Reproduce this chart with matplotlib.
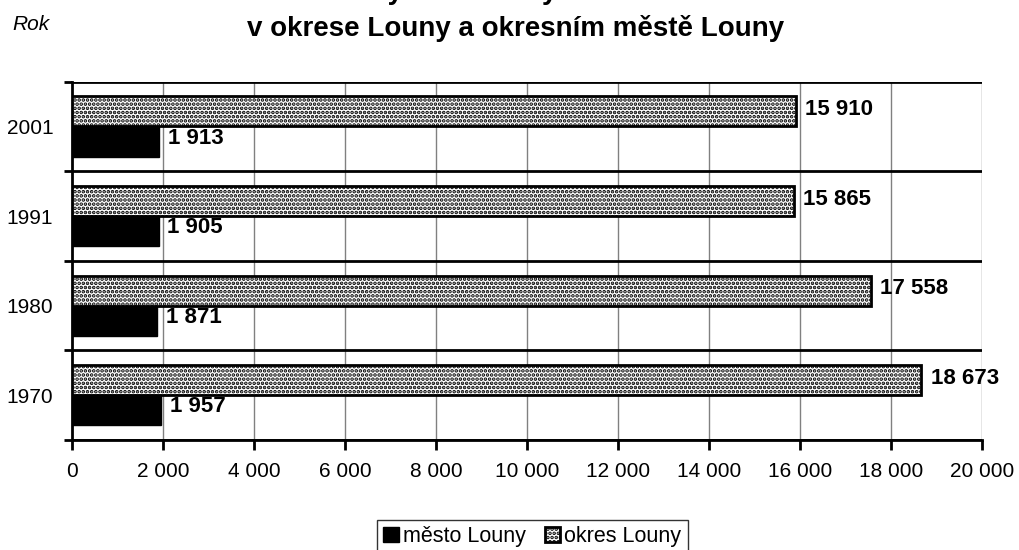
import numpy as np
import matplotlib.pyplot as plt
import matplotlib as mpl

plt.rcParams['font.family'] = ['Liberation Sans', 'DejaVu Sans']
mpl.rcParams['hatch.linewidth'] = 1.8

# data
roky = ['1970', '1980', '1991', '2001']
okres = [18673, 17558, 15865, 15910]
mesto = [1957, 1871, 1905, 1913]
x_ticks = [0, 2000, 4000, 6000, 8000, 10000, 12000, 14000, 16000, 18000, 20000]


def fmt(v):
    return f'{v:,}'.replace(',', ' ')


fig = plt.figure(figsize=(10.2, 5.5), dpi=100)
ax = fig.add_axes([0.0706, 0.2, 0.892, 0.651])

y = np.arange(len(roky))
h = 0.335
off = 0.17

ax.barh(y + off, okres, height=h, color='white', edgecolor='black',
        hatch='....', linewidth=2, label='okres Louny', zorder=3)
ax.barh(y - off, mesto, height=h, color='black', edgecolor='black',
        linewidth=1, label='město Louny', zorder=3)

for yi, v in zip(y, okres):
    ax.text(v + 200, yi + off + 0.02, fmt(v), ha='left', va='center',
            fontsize=16, fontweight='bold', zorder=4)
for yi, v in zip(y, mesto):
    ax.text(v + 190, yi - off + 0.04, fmt(v), ha='left', va='center',
            fontsize=16, fontweight='bold', zorder=4)

ax.set_xlim(0, 20000)
ax.set_ylim(-0.5, len(roky) - 0.5)
ax.set_xticks(x_ticks)
ax.set_xticklabels([fmt(t) for t in x_ticks], fontsize=15)
ax.set_yticks(y)
ax.set_yticklabels(roky, fontsize=15)
ax.tick_params(axis='y', length=0, pad=13.5)
ax.tick_params(axis='x', length=7, width=2, pad=9)

# category separators
bounds = np.arange(len(roky) + 1) - 0.5
ax.set_yticks(bounds, minor=True)
ax.tick_params(axis='y', which='minor', length=6, width=2)
for b in bounds:
    ax.axhline(b, color='black', linewidth=2, zorder=2)
for t in x_ticks[1:]:
    ax.axvline(t, color='#808080', linewidth=1, zorder=1)

for s in ['top', 'right']:
    ax.spines[s].set_visible(False)
ax.spines['left'].set_linewidth(2)
ax.spines['bottom'].set_linewidth(2)

fig.text(0.505, 1.001, 'Trvale obydlené domy v letech sčítání', ha='center',
         va='baseline', fontsize=20, fontweight='bold')
fig.text(0.505, 0.934, 'v okrese Louny a okresním městě Louny', ha='center',
         va='baseline', fontsize=20, fontweight='bold')
fig.text(0.012, 0.955, 'Rok', ha='left', va='center', fontsize=15, style='italic')

handles, labels = ax.get_legend_handles_labels()
leg = fig.legend(handles[::-1], labels[::-1], loc='center', bbox_to_anchor=(0.522, 0.024),
                 ncol=2, fontsize=15.5, frameon=True, fancybox=False, edgecolor='black',
                 handlelength=0.7, handleheight=0.7, handletextpad=0.2,
                 columnspacing=0.9, borderpad=0.3)
leg.get_frame().set_linewidth(1)

fig.savefig('out.png', dpi=100)
